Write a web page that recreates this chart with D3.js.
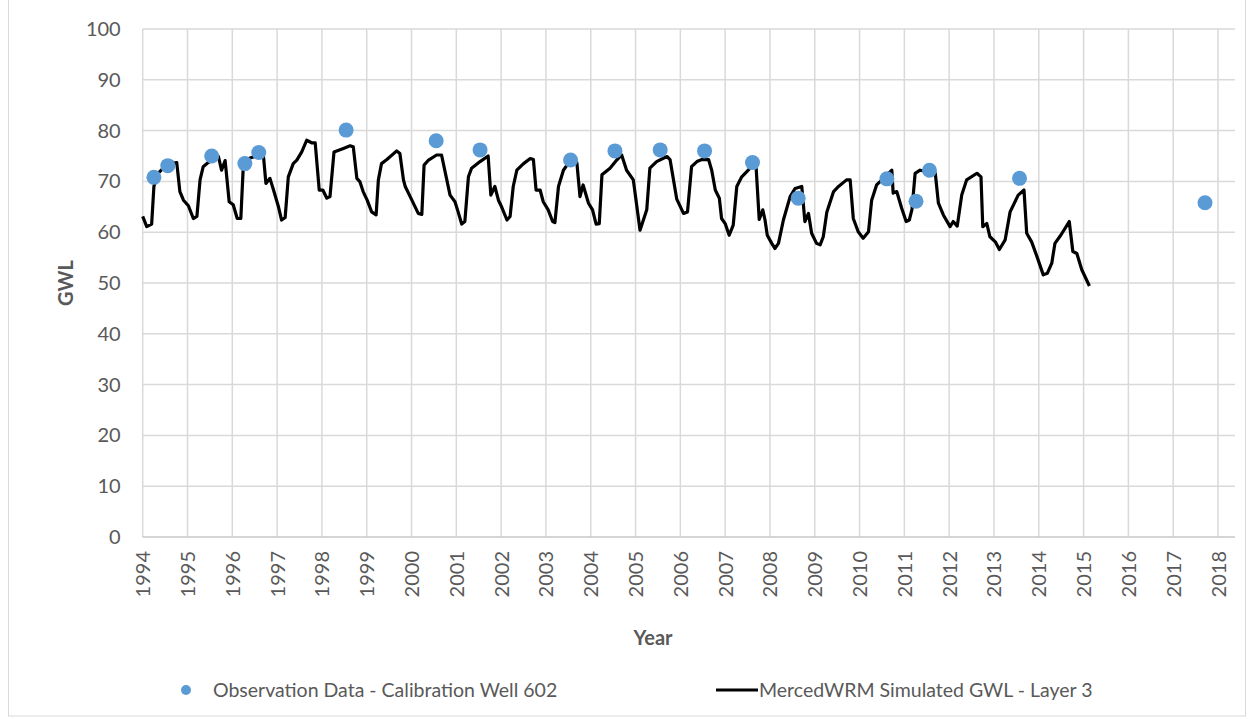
<!DOCTYPE html>
<html><head><meta charset="utf-8">
<script src="https://cdn.jsdelivr.net/npm/d3@7"></script>
<style>body{margin:0;background:#fff}text{font-family:Lato,"Open Sans",sans-serif}</style>
</head><body><svg id="c" width="1249" height="719"></svg>
<script>
const simYears = [1994.00,1994.09,1994.20,1994.25,1994.33,1994.46,1994.61,1994.76,1994.83,1994.91,1995.02,1995.13,1995.21,1995.28,1995.35,1995.46,1995.69,1995.76,1995.84,1995.93,1996.02,1996.11,1996.19,1996.25,1996.40,1996.69,1996.75,1996.84,1996.92,1997.03,1997.10,1997.18,1997.25,1997.36,1997.44,1997.55,1997.66,1997.77,1997.85,1997.94,1998.02,1998.11,1998.18,1998.27,1998.48,1998.63,1998.70,1998.78,1998.85,1998.92,1999.01,1999.11,1999.21,1999.26,1999.33,1999.45,1999.67,1999.74,1999.82,1999.86,1999.97,2000.15,2000.23,2000.28,2000.38,2000.56,2000.67,2000.86,2000.97,2001.04,2001.12,2001.19,2001.27,2001.34,2001.53,2001.71,2001.77,2001.86,2001.94,2002.01,2002.13,2002.20,2002.27,2002.35,2002.50,2002.65,2002.72,2002.78,2002.87,2002.94,2003.05,2003.15,2003.20,2003.28,2003.39,2003.47,2003.69,2003.76,2003.83,2003.95,2004.04,2004.12,2004.19,2004.25,2004.43,2004.58,2004.69,2004.80,2004.95,2005.10,2005.25,2005.32,2005.47,2005.70,2005.77,2005.92,2006.07,2006.16,2006.25,2006.37,2006.48,2006.63,2006.70,2006.78,2006.87,2006.92,2007.00,2007.09,2007.18,2007.26,2007.37,2007.59,2007.69,2007.76,2007.84,2007.89,2007.94,2008.04,2008.11,2008.19,2008.30,2008.45,2008.56,2008.71,2008.78,2008.86,2008.93,2009.04,2009.12,2009.19,2009.27,2009.42,2009.53,2009.71,2009.79,2009.86,2009.97,2010.08,2010.20,2010.27,2010.38,2010.50,2010.72,2010.75,2010.83,2010.94,2011.04,2011.11,2011.17,2011.24,2011.35,2011.69,2011.76,2011.87,2012.02,2012.09,2012.18,2012.28,2012.39,2012.62,2012.71,2012.75,2012.84,2012.91,2013.03,2013.12,2013.25,2013.36,2013.54,2013.67,2013.73,2013.84,2013.96,2014.10,2014.19,2014.29,2014.36,2014.49,2014.68,2014.76,2014.85,2014.96,2015.13];
const simGWL = [63.1,61.1,61.6,69.0,71.5,72.6,73.5,73.7,68.0,66.3,65.2,62.7,63.1,70.3,72.9,73.7,74.9,72.2,74.1,66.0,65.4,62.7,62.7,73.9,74.6,75.5,69.6,70.6,68.3,65.0,62.4,62.9,70.9,73.5,74.2,75.8,78.1,77.6,77.6,68.3,68.3,66.7,67.0,75.8,76.5,77.0,76.8,70.6,69.9,68.0,66.3,64.0,63.4,70.3,73.5,74.3,76.0,75.5,70.3,69.0,67.0,63.7,63.5,73.2,74.2,75.2,75.2,67.3,66.0,64.0,61.6,62.1,70.9,72.6,73.9,75.0,67.3,69.0,66.3,65.0,62.4,63.1,69.0,72.2,73.5,74.5,74.3,68.3,68.3,66.0,64.4,62.1,61.9,69.0,72.2,73.2,73.7,67.0,69.3,65.7,64.4,61.6,61.7,71.3,72.6,74.2,75.2,72.2,70.3,60.4,64.4,72.6,73.9,74.9,74.3,66.5,63.7,64.0,72.9,73.9,74.3,74.3,72.2,68.3,66.7,62.7,61.7,59.4,61.4,69.0,70.9,72.9,72.9,62.5,64.4,62.4,59.4,57.8,56.8,57.8,62.4,67.0,68.6,69.0,62.1,63.7,59.8,57.8,57.5,59.1,64.0,68.0,69.0,70.3,70.3,62.7,60.1,58.8,60.1,66.3,69.3,70.3,72.2,67.7,68.0,64.7,62.1,62.4,64.5,71.6,72.2,71.6,65.7,63.4,61.1,62.1,61.2,67.3,70.3,71.6,70.9,61.1,61.7,59.1,58.1,56.6,58.5,64.0,67.3,68.3,59.8,58.1,55.2,51.6,51.9,53.9,57.8,59.4,62.1,56.2,55.8,52.6,49.4];
const obsYears = [1994.25,1994.56,1995.54,1996.28,1996.59,1998.54,2000.55,2001.53,2003.55,2004.54,2005.55,2006.54,2007.61,2008.63,2010.61,2011.26,2011.56,2013.57,2017.71];
const obsGWL = [70.8,73.1,75.0,73.5,75.7,80.1,78.0,76.2,74.2,76.0,76.2,76.0,73.7,66.7,70.5,66.1,72.2,70.6,65.8];
const yTicks = [0,10,20,30,40,50,60,70,80,90,100];
const xTicks = d3.range(1994, 2019);
const obsLabel = "Observation Data - Calibration Well 602";
const simLabel = "MercedWRM Simulated GWL - Layer 3";

const svg = d3.select("#c");
const L = 142.7, R = 1218, T = 29, B = 537, PR = 1235;
const x = d3.scaleLinear().domain([1994, 2018]).range([L, R]);
const y = d3.scaleLinear().domain([0, 100]).range([B, T]);

// chart border
svg.append("rect").attr("x", 8.5).attr("y", -1).attr("width", 1237).attr("height", 717)
  .attr("fill", "none").attr("stroke", "#d9d9d9").attr("stroke-width", 1);

// gridlines
svg.append("g").selectAll("line").data(xTicks).join("line")
  .attr("x1", d => x(d)).attr("x2", d => x(d)).attr("y1", T).attr("y2", B)
  .attr("stroke", "#d9d9d9").attr("stroke-width", 1.5);
svg.append("g").selectAll("line").data(yTicks).join("line")
  .attr("x1", L).attr("x2", PR).attr("y1", d => y(d)).attr("y2", d => y(d))
  .attr("stroke", d => d === 0 ? "#c8c8c8" : "#d9d9d9").attr("stroke-width", 1.5);

// axes labels
const yAxis = d3.axisLeft(y).tickValues(yTicks).tickSize(0).tickPadding(0);
const gy = svg.append("g").attr("transform", `translate(${L - 22},0)`).call(yAxis);
gy.select(".domain").remove();
gy.selectAll("text").attr("font-size", 20).attr("fill", "#595959").style("font-family", "Lato, sans-serif");

const xAxis = d3.axisBottom(x).tickValues(xTicks).tickFormat(d3.format("d")).tickSize(0).tickPadding(0);
const gx = svg.append("g").attr("transform", `translate(0,${B})`).call(xAxis);
gx.select(".domain").remove();
gx.selectAll("text").attr("font-size", 20).attr("fill", "#595959").style("font-family", "Lato, sans-serif")
  .attr("transform", "rotate(-90)").attr("text-anchor", "end").attr("dy", "0.35em").attr("x", -14).attr("y", 0);

// axis titles
svg.append("text").attr("transform", `translate(73,${(T + B) / 2}) rotate(-90)`)
  .attr("text-anchor", "middle").attr("font-size", 20).attr("font-weight", "bold").attr("fill", "#595959").text("GWL");
svg.append("text").attr("x", 653).attr("y", 645)
  .attr("text-anchor", "middle").attr("font-size", 20).attr("font-weight", "bold").attr("fill", "#595959").text("Year");

// line
const line = d3.line().x((d, i) => x(simYears[i])).y(d => y(d));
svg.append("path").datum(simGWL).attr("d", line).attr("fill", "none")
  .attr("stroke", "#000").attr("stroke-width", 3.2).attr("stroke-linejoin", "round");

// observation dots
svg.append("g").selectAll("circle").data(obsGWL).join("circle")
  .attr("cx", (d, i) => x(obsYears[i])).attr("cy", d => y(d)).attr("r", 7.5).attr("fill", "#5b9bd5");

// legend
const lg = svg.append("g");
lg.append("circle").attr("cx", 186).attr("cy", 690).attr("r", 5).attr("fill", "#5b9bd5");
lg.append("text").attr("x", 213).attr("y", 697).attr("font-size", 19.5).attr("fill", "#595959").text(obsLabel);
lg.append("line").attr("x1", 716).attr("x2", 758).attr("y1", 690).attr("y2", 690).attr("stroke", "#000").attr("stroke-width", 3.2);
lg.append("text").attr("x", 759).attr("y", 697).attr("font-size", 19.5).attr("fill", "#595959").text(simLabel);
</script></body></html>
